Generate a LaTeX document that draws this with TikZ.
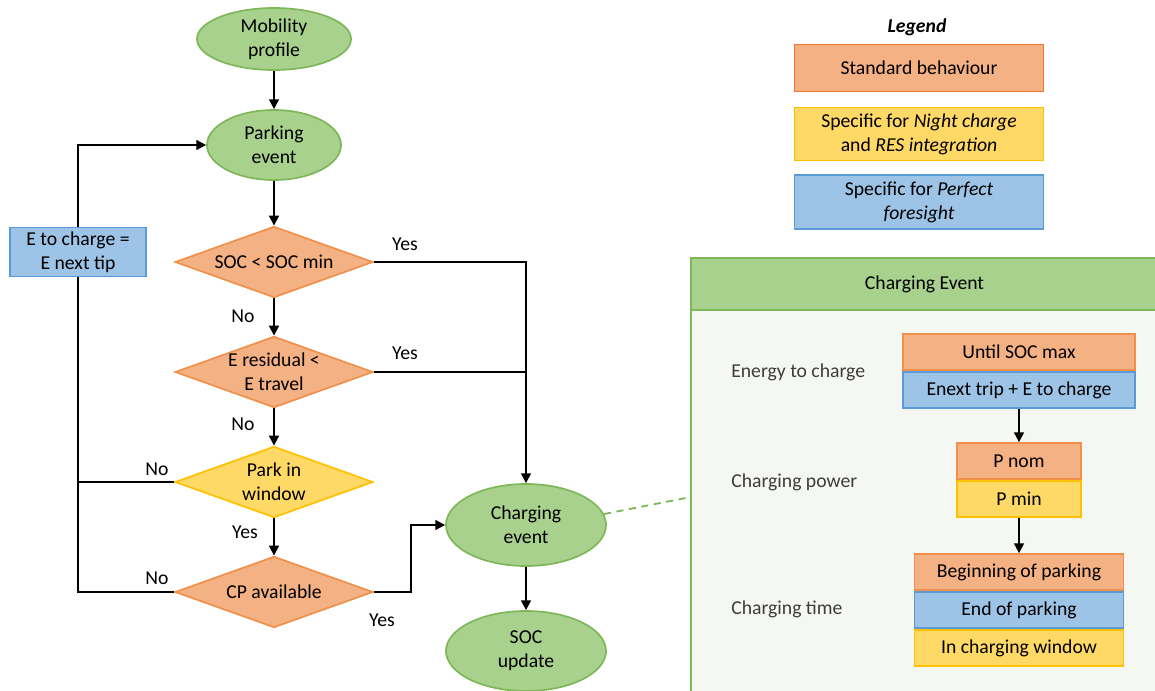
\documentclass[tikz,border=0pt]{standalone}
\usepackage{fontspec}
\setmainfont{Carlito}
\usepackage{tikz}
\usetikzlibrary{positioning,arrows.meta,shapes.geometric}

\definecolor{grfill}{HTML}{A9D18E}
\definecolor{grline}{HTML}{7DB758}
\definecolor{orfill}{HTML}{F4B183}
\definecolor{orline}{HTML}{F0904A}
\definecolor{yefill}{HTML}{FFD966}
\definecolor{yeline}{HTML}{FFC000}
\definecolor{blfill}{HTML}{9DC3E6}
\definecolor{blline}{HTML}{5B9BD5}
\definecolor{panelbg}{HTML}{F5F7F2}
\definecolor{labgray}{HTML}{3C3C3C}

\tikzset{
  base/.style={draw, line width=1.2pt, inner sep=0pt, align=center},
  term/.style={base, ellipse, fill=grfill, draw=grline},
  decide/.style={base, diamond, aspect=2.79, minimum width=4.95cm, minimum height=1.78cm},
  orng/.style={fill=orfill, draw=orline},
  yelw/.style={fill=yefill, draw=yeline},
  blue/.style={fill=blfill, draw=blline},
  legbox/.style={base, minimum width=6.23cm},
  cebox/.style={base, minimum height=0.9cm},
  flow/.style={line width=1.3pt, ->},
  conn/.style={line width=1.3pt},
  dashln/.style={line width=1.3pt, grline, dash pattern=on 5pt off 4pt},
}

\begin{document}
\begin{tikzpicture}[x=0.025cm, y=-0.025cm, >={Triangle[length=7pt,width=7pt]},
  font=\fontsize{14}{17}\selectfont]
\useasboundingbox (0,0) rectangle (1155,690);

% main flow
\node[term, minimum width=3.85cm, minimum height=1.55cm] (mob) at (274,39) {Mobility\\profile};
\node[term, minimum width=3.35cm, minimum height=1.75cm] (park) at (274,145) {Parking\\event};
\node[decide, orng] (socmin) at (274,262) {SOC < SOC min};
\node[decide, orng] (eres) at (274,372) {E residual <\\E travel};
\node[decide, yelw] (pwin) at (274,482) {Park in\\window};
\node[decide, orng] (cpav) at (274,592) {CP available};
\node[term, minimum width=4.0cm, minimum height=2.05cm] (chev) at (526,525) {Charging\\event};
\node[term, minimum width=4.0cm, minimum height=2.0cm] (socup) at (526,651) {SOC\\update};
\node[base, blue, minimum width=3.4cm, minimum height=1.23cm] (etc) at (78,252) {E to charge =\\E next tip};

\draw[flow] (mob) -- (park);
\draw[flow] (park) -- (socmin);
\draw[flow] (socmin) -- (eres);
\draw[flow] (eres) -- (pwin);
\draw[flow] (pwin) -- (cpav);
\draw[flow] (socmin.east) -| (chev.north);
\draw[conn] (eres.east) -- (eres.east -| chev.north);
\draw[flow] (cpav.east) -- ++(37,0) |- (chev.west);
\draw[flow] (chev) -- (socup);
\draw[flow] (etc.north) |- (park.west);
\draw[conn] (etc.south) |- (cpav.west);
\draw[conn] (pwin.west) -- (pwin.west -| etc.south);

% yes / no
\node (no1) at (243,316) {No};
\node (no2) at (243,424) {No};
\node (yes3) at (245,532) {Yes};
\node (no3) at (157,469) {No};
\node (no4) at (157,578) {No};
\node (yes1) at (405,244) {Yes};
\node (yes2) at (405,353) {Yes};
\node (yes4) at (382,620) {Yes};

% legend
\node[font=\fontsize{14}{17}\selectfont\bfseries\itshape] (leg) at (917,27) {Legend};
\node[legbox, orng, draw=orline!80!red, minimum height=1.18cm] (lstd) at (919,68) {Standard behaviour};
\node[legbox, yelw, minimum height=1.33cm] (lnight) at (919,134) {Specific for \textit{Night charge}\\and \textit{RES integration}};
\node[legbox, blue, minimum height=1.35cm] (lperf) at (919,202) {Specific for \textit{Perfect}\\\textit{foresight}};

% charging event panel
\node[base, fill=panelbg, draw=grline, minimum width=11.85cm, minimum height=9.75cm] (cebody) at (928,505) {};
\node[base, fill=grfill, draw=grline, minimum width=11.85cm, minimum height=1.3cm] (cehead) at (928,284) {\hspace*{-5pt}Charging Event};
\coordinate (dashend) at (691,497);
\draw[dashln] (chev.8) -- (dashend);

\node[anchor=west, inner sep=0pt, text=labgray] (lenergy) at (731,372) {Energy to charge};
\node[anchor=west, inner sep=0pt, text=labgray] (lpower) at (731,482) {Charging power};
\node[anchor=west, inner sep=0pt, text=labgray] (ltime) at (731,609) {Charging time};

\node[cebox, orng, minimum width=5.8cm] (socmax) at (1019,352) {Until SOC max};
\node[cebox, blue, minimum width=5.8cm] (enext) at (1019,390) {Enext trip + E to charge};
\node[cebox, orng, minimum width=3.1cm] (pnom) at (1019,461) {P nom};
\node[cebox, yelw, minimum width=3.1cm] (pmin) at (1019,499) {P min};
\node[cebox, orng, minimum width=5.23cm] (begp) at (1019,572) {Beginning of parking};
\node[cebox, blue, minimum width=5.23cm] (endp) at (1019,610) {End of parking};
\node[cebox, yelw, minimum width=5.23cm] (inwin) at (1019,648) {In charging window};

\draw[flow] (enext) -- (pnom);
\draw[flow] (pmin) -- (begp);
\end{tikzpicture}
\end{document}
